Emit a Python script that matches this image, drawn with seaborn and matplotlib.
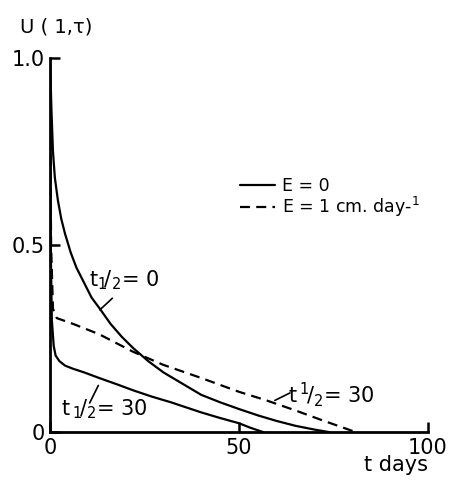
import pandas as pd
import matplotlib.pyplot as plt
import seaborn as sns

# curve values (t in days, U(1,tau))
t_half0 = [0, 0.15, 0.4, 0.8, 1.3, 2.1, 3, 4, 5.5, 7, 9, 11, 13.2, 16, 19, 22,
           26, 30, 35, 40, 45, 50, 55, 60, 65, 70, 74]
u_half0 = [1.0, 0.95, 0.86, 0.75, 0.68, 0.62, 0.57, 0.53, 0.48, 0.44, 0.40, 0.36,
           0.33, 0.29, 0.255, 0.225, 0.19, 0.16, 0.13, 0.10, 0.08, 0.062, 0.045,
           0.03, 0.017, 0.007, 0.0]

t_half30 = [0, 0.2, 0.5, 1, 1.5, 2.5, 4, 6, 9, 13, 18, 22, 27, 32, 40, 45, 50, 53, 56.5]
u_half30 = [0.85, 0.5, 0.3, 0.23, 0.205, 0.19, 0.178, 0.17, 0.16, 0.145, 0.127,
            0.112, 0.095, 0.08, 0.053, 0.038, 0.024, 0.012, 0.0]

t_evap = [0, 0.3, 0.8, 1.8, 6, 13, 22, 30, 40, 50, 57, 65, 72, 81]
u_evap = [1.0, 0.5, 0.33, 0.305, 0.29, 0.262, 0.215, 0.18, 0.145, 0.108, 0.086,
          0.058, 0.032, 0.0]

x_ticks = [0, 50, 100]
y_ticks = [0, 0.5, 1.0]
y_ticklabels = ["0", "0.5", "1.0"]


def main():
    sns.set_style("ticks")
    plt.rcParams['font.family'] = ['DejaVu Sans']
    plt.rcParams['text.color'] = 'black'
    plt.rcParams['axes.labelcolor'] = 'black'

    fig = plt.figure(figsize=(4.5, 4.84), dpi=100)
    ax = fig.add_axes([0.111, 0.107, 0.840, 0.773])

    df0 = pd.DataFrame({'t': t_half0, 'U': u_half0})
    df30 = pd.DataFrame({'t': t_half30, 'U': u_half30})
    dfe = pd.DataFrame({'t': t_evap, 'U': u_evap})

    sns.lineplot(ax=ax, data=df0, x='t', y='U', color='black', lw=1.6,
                 sort=False, estimator=None, label='E = 0')
    sns.lineplot(ax=ax, data=dfe, x='t', y='U', color='black', lw=1.6,
                 sort=False, estimator=None, label='E = 1 cm. day-$^1$')
    ax.lines[-1].set_dashes([4.5, 2.8])
    sns.lineplot(ax=ax, data=df30, x='t', y='U', color='black', lw=1.6,
                 sort=False, estimator=None)

    ax.set_xlim(0, 100)
    ax.set_ylim(0, 1.0)
    sns.despine(ax=ax)
    for s in ['left', 'bottom']:
        ax.spines[s].set_linewidth(2)
        ax.spines[s].set_color('black')
    ax.set_xticks(x_ticks)
    ax.set_yticks(y_ticks)
    ax.set_yticklabels(y_ticklabels)
    ax.tick_params(direction='in', length=7, width=1.8, labelsize=15, pad=4, colors='black')
    ax.set_xlabel('t days', fontsize=15, loc='right', labelpad=-2)
    ax.set_ylabel('')
    fig.text(0.045, 0.944, 'U ( 1,τ)', fontsize=14, va='center', ha='left')

    ax.legend(loc='upper left', bbox_to_anchor=(0.462, 0.725), frameon=False,
              fontsize=12.5, handlelength=2.0, handletextpad=0.4, labelspacing=0.0)

    # curve labels with leader lines
    lbl = dict(fontsize=15, color='black', transform=ax.transAxes)
    ax.text(0.103, 0.39, r't$_{1}\!/_{2}$= 0', **lbl)
    ax.plot([13.2, 16.5], [0.327, 0.358], color='black', lw=1.2)
    ax.text(0.028, 0.045, r't$\,_1\!/_{2}$= 30', **lbl)
    ax.plot([10.5, 12.8], [0.078, 0.125], color='black', lw=1.2)
    ax.text(0.63, 0.08, r't$\,^1\!/_{2}$= 30', **lbl)
    ax.plot([59.5, 63.5], [0.085, 0.105], color='black', lw=1.2)

    plt.savefig('out.png', dpi=100)


if __name__ == '__main__':
    main()
